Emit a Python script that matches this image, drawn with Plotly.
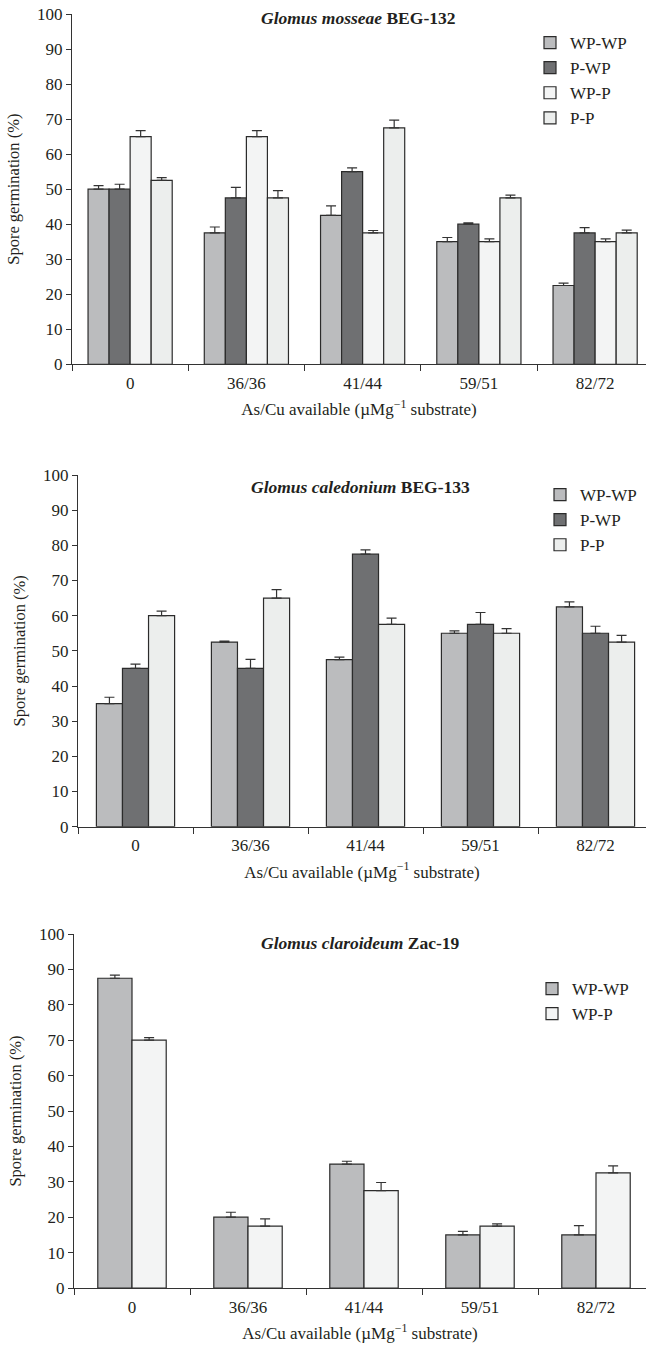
import plotly.graph_objects as go

# ---------------- data ----------------
categories = ["0", "36/36", "41/44", "59/51", "82/72"]
y_ticks = [0, 10, 20, 30, 40, 50, 60, 70, 80, 90, 100]

# Panel 1: Glomus mosseae BEG-132
p1_title = "<b><i>Glomus mosseae</i> BEG-132</b>"
p1_names = ["WP-WP", "P-WP", "WP-P", "P-P"]
p1_wpwp = [50, 37.5, 42.5, 35, 22.5]
p1_wpwp_err = [1.0, 1.7, 2.7, 1.2, 0.7]
p1_pwp = [50, 47.5, 55, 40, 37.5]
p1_pwp_err = [1.4, 3.0, 1.1, 0.4, 1.5]
p1_wpp = [65, 65, 37.5, 35, 35]
p1_wpp_err = [1.7, 1.7, 0.7, 0.8, 0.8]
p1_pp = [52.5, 47.5, 67.5, 47.5, 37.5]
p1_pp_err = [0.8, 2.1, 2.2, 0.8, 0.8]

# Panel 2: Glomus caledonium BEG-133
p2_title = "<b><i>Glomus caledonium</i> BEG-133</b>"
p2_names = ["WP-WP", "P-WP", "P-P"]
p2_wpwp = [35, 52.5, 47.5, 55, 62.5]
p2_wpwp_err = [1.8, 0.3, 0.7, 0.7, 1.4]
p2_pwp = [45, 45, 77.5, 57.5, 55]
p2_pwp_err = [1.2, 2.6, 1.2, 3.4, 2.0]
p2_pp = [60, 65, 57.5, 55, 52.5]
p2_pp_err = [1.3, 2.4, 1.8, 1.3, 1.9]

# Panel 3: Glomus claroideum Zac-19
p3_title = "<b><i>Glomus claroideum</i> Zac-19</b>"
p3_names = ["WP-WP", "WP-P"]
p3_wpwp = [87.5, 20, 35, 15, 15]
p3_wpwp_err = [0.9, 1.4, 0.8, 1.0, 2.6]
p3_wpp = [70, 17.5, 27.5, 17.5, 32.5]
p3_wpp_err = [0.7, 2.0, 2.3, 0.6, 2.0]

x_title = "As/Cu available (\u00b5Mg<sup>\u22121</sup> substrate)"
y_title = "Spore germination (%)"

# ---------------- style ----------------
W, H = 646, 1345
FONT = "Liberation Serif"
TXT = "#231f20"
EDGE = "#2b2b2b"
C_WPWP = "#bbbcbe"
C_PWP = "#6f7072"
C_WPP = "#f3f4f4"
C_PP = "#eceeed"


def fx(px):
    return px / W


def fy(py):
    return 1 - py / H


panels = [
    dict(title=p1_title, names=p1_names,
         vals=[p1_wpwp, p1_pwp, p1_wpp, p1_pp],
         errs=[p1_wpwp_err, p1_pwp_err, p1_wpp_err, p1_pp_err],
         colors=[C_WPWP, C_PWP, C_WPP, C_PP],
         ax_x=72, cat_w=116.25, y_bot=364.3, y_top=14, group=0.724,
         title_xy=(358, 18), legend_xy=(530, 25)),
    dict(title=p2_title, names=p2_names,
         vals=[p2_wpwp, p2_pwp, p2_pp],
         errs=[p2_wpwp_err, p2_pwp_err, p2_pp_err],
         colors=[C_WPWP, C_PWP, C_PP],
         ax_x=78, cat_w=115.0, y_bot=826.7, y_top=475, group=0.68,
         title_xy=(360, 487), legend_xy=(540, 477)),
    dict(title=p3_title, names=p3_names,
         vals=[p3_wpwp, p3_wpp],
         errs=[p3_wpwp_err, p3_wpp_err],
         colors=[C_WPWP, C_WPP],
         ax_x=74, cat_w=116.0, y_bot=1288, y_top=934, group=0.59,
         title_xy=(360, 943), legend_xy=(532, 971)),
]

fig = go.Figure()
layout = dict(
    width=W, height=H,
    margin=dict(l=0, r=0, t=0, b=0, autoexpand=False),
    paper_bgcolor="white", plot_bgcolor="white",
    barmode="overlay",
    font=dict(family=FONT, size=17, color=TXT),
    annotations=[],
)

for k, p in enumerate(panels, start=1):
    sfx = "" if k == 1 else str(k)
    xa, ya = "x" + sfx, "y" + sfx
    leg = "legend" + sfx
    n = len(p["names"])
    bw = p["group"] / n
    for i, (name, vals, errs, col) in enumerate(zip(p["names"], p["vals"], p["errs"], p["colors"])):
        fig.add_trace(go.Bar(
            x=categories, y=vals, name=name,
            xaxis=xa, yaxis=ya, legend=leg, legendgroup=f"{k}-{name}",
            width=bw, offset=-p["group"] / 2 + i * bw,
            marker=dict(color=col, line=dict(color=EDGE, width=1.2)),
            error_y=dict(type="data", array=errs, arrayminus=[0] * len(errs),
                         symmetric=False, color="#333333", thickness=1.2, width=5),
        ))
    xmax = -0.5 + (W - p["ax_x"]) / p["cat_w"]
    layout["xaxis" + sfx] = dict(
        domain=[fx(p["ax_x"]), 1], anchor=ya, type="category", range=[-0.5, xmax],
        automargin=False,
        showline=True, linecolor="#333333", linewidth=1.2,
        ticks="outside", tickson="boundaries", ticklen=6, tickcolor="#333333", tickwidth=1.2,
        ticklabelstandoff=3,
        tickfont=dict(family=FONT, size=17, color=TXT),
        showgrid=False, zeroline=False,
        title=dict(text=x_title, font=dict(family=FONT, size=17, color=TXT), standoff=11),
    )
    layout["yaxis" + sfx] = dict(
        domain=[fy(p["y_bot"]), fy(p["y_top"])], anchor=xa,
        automargin=False, ticklabeloverflow="allow",
        range=[0, 100], tickvals=y_ticks,
        showline=True, linecolor="#333333", linewidth=1.2,
        ticks="outside", ticklen=5, tickcolor="#333333", tickwidth=1.2,
        tickfont=dict(family=FONT, size=17, color=TXT),
        showgrid=False, zeroline=False,
        title=dict(text=y_title, font=dict(family=FONT, size=16.5, color=TXT), standoff=13),
    )
    layout[leg] = dict(
        x=fx(p["legend_xy"][0]), y=fy(p["legend_xy"][1]),
        xanchor="left", yanchor="top",
        bgcolor="rgba(0,0,0,0)", borderwidth=0,
        font=dict(family=FONT, size=17, color=TXT),
        tracegroupgap=0, itemclick=False,
    )
    layout["annotations"].append(dict(
        text=p["title"], xref="paper", yref="paper",
        x=fx(p["title_xy"][0]), y=fy(p["title_xy"][1]),
        xanchor="center", yanchor="middle", showarrow=False,
        font=dict(family=FONT, size=17.5, color=TXT),
    ))

fig.update_layout(**layout)
fig.write_html(
    "out.html",
    config={"displayModeBar": False},
    post_script="document.body.style.margin='0';document.body.style.overflow='hidden';",
)
